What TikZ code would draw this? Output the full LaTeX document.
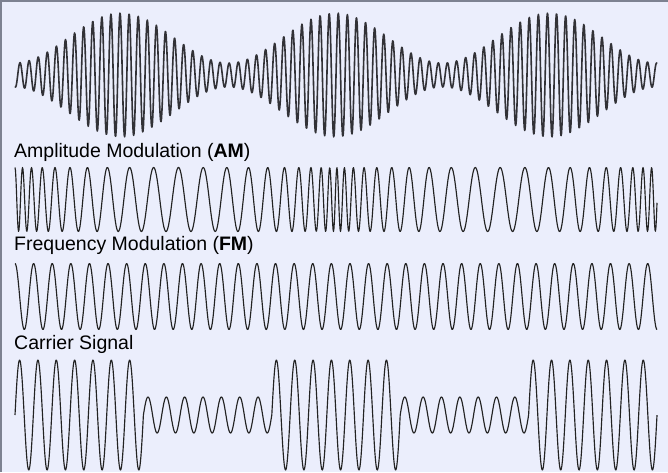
\documentclass[tikz,border=0pt]{standalone}
\usepackage{fontspec}
\setmainfont{Liberation Sans}
\definecolor{bg}{RGB}{235,238,252}
\definecolor{framecol}{RGB}{125,130,145}
\definecolor{wave}{RGB}{35,35,35}
\definecolor{amwave}{RGB}{50,50,55}
\begin{document}
% precompute FM points
\gdef\fmpts{}
\gdef\fmph{0}
\foreach \i in {0,...,1284}{%
  \pgfmathsetmacro\xx{15+\i*0.5}%
  \pgfmathsetmacro\yy{199.5-32*cos(\fmph)}%
  \xdef\fmpts{\fmpts (\xx,\yy)}%
  \pgfmathsetmacro\TT{6.7+18.3*abs(sin(0.559006*(\xx+0.25-336)))}%
  \pgfmathsetmacro\np{mod(\fmph+180/\TT,360)}%
  \xdef\fmph{\np}%
}
\begin{tikzpicture}[x=1pt,y=-1pt,
  wavesty/.style={draw=wave, line width=1.15pt, line join=round},
  amsty/.style={draw=amwave, line width=1.6pt, line join=round},
  lbl/.style={anchor=base west, inner sep=0pt, font=\fontsize{19.5}{23}\selectfont}]
\fill[bg] (0,0) rectangle (668,472);
\useasboundingbox (0,0) rectangle (668,472);
\draw[framecol, line width=1.5pt] (0.75,472) -- (0.75,0.75) -- (668,0.75);
% AM
\draw[amsty] plot[domain=15:657, samples=1500, variable=\t]
  (\t, {75-(37-25*cos(1.679888*(\t-14)))*cos(360*mod((\t-20)/9.094,1))});
\node[lbl] (am) at (14,157.3) {Amplitude Modulation (\textbf{AM})};
% FM
\edef\fmdraw{\noexpand\draw[wavesty] plot coordinates {\fmpts};}
\fmdraw
\node[lbl] (fm) at (14,250.5) {Frequency Modulation (\textbf{FM})};
% Carrier
\draw[wavesty] plot[domain=15:657, samples=1300, variable=\t]
  (\t, {296.5-33*cos(360*mod((\t-15)/18.609,1))});
\node[lbl] (car) at (14,349.4) {Carrier Signal};
% ASK-like signal
\draw[wavesty]
  plot[domain=15:143.4, samples=260, variable=\t] (\t,{415-55*sin(360*mod((\t-15)/18.343,1))})
  -- plot[domain=143.4:271.8, samples=260, variable=\t] (\t,{415-18*sin(360*mod((\t-15)/18.343,1))})
  -- plot[domain=271.8:400.2, samples=260, variable=\t] (\t,{415-55*sin(360*mod((\t-15)/18.343,1))})
  -- plot[domain=400.2:528.6, samples=260, variable=\t] (\t,{415-18*sin(360*mod((\t-15)/18.343,1))})
  -- plot[domain=528.6:657, samples=260, variable=\t] (\t,{415-55*sin(360*mod((\t-15)/18.343,1))});
\end{tikzpicture}
\end{document}
